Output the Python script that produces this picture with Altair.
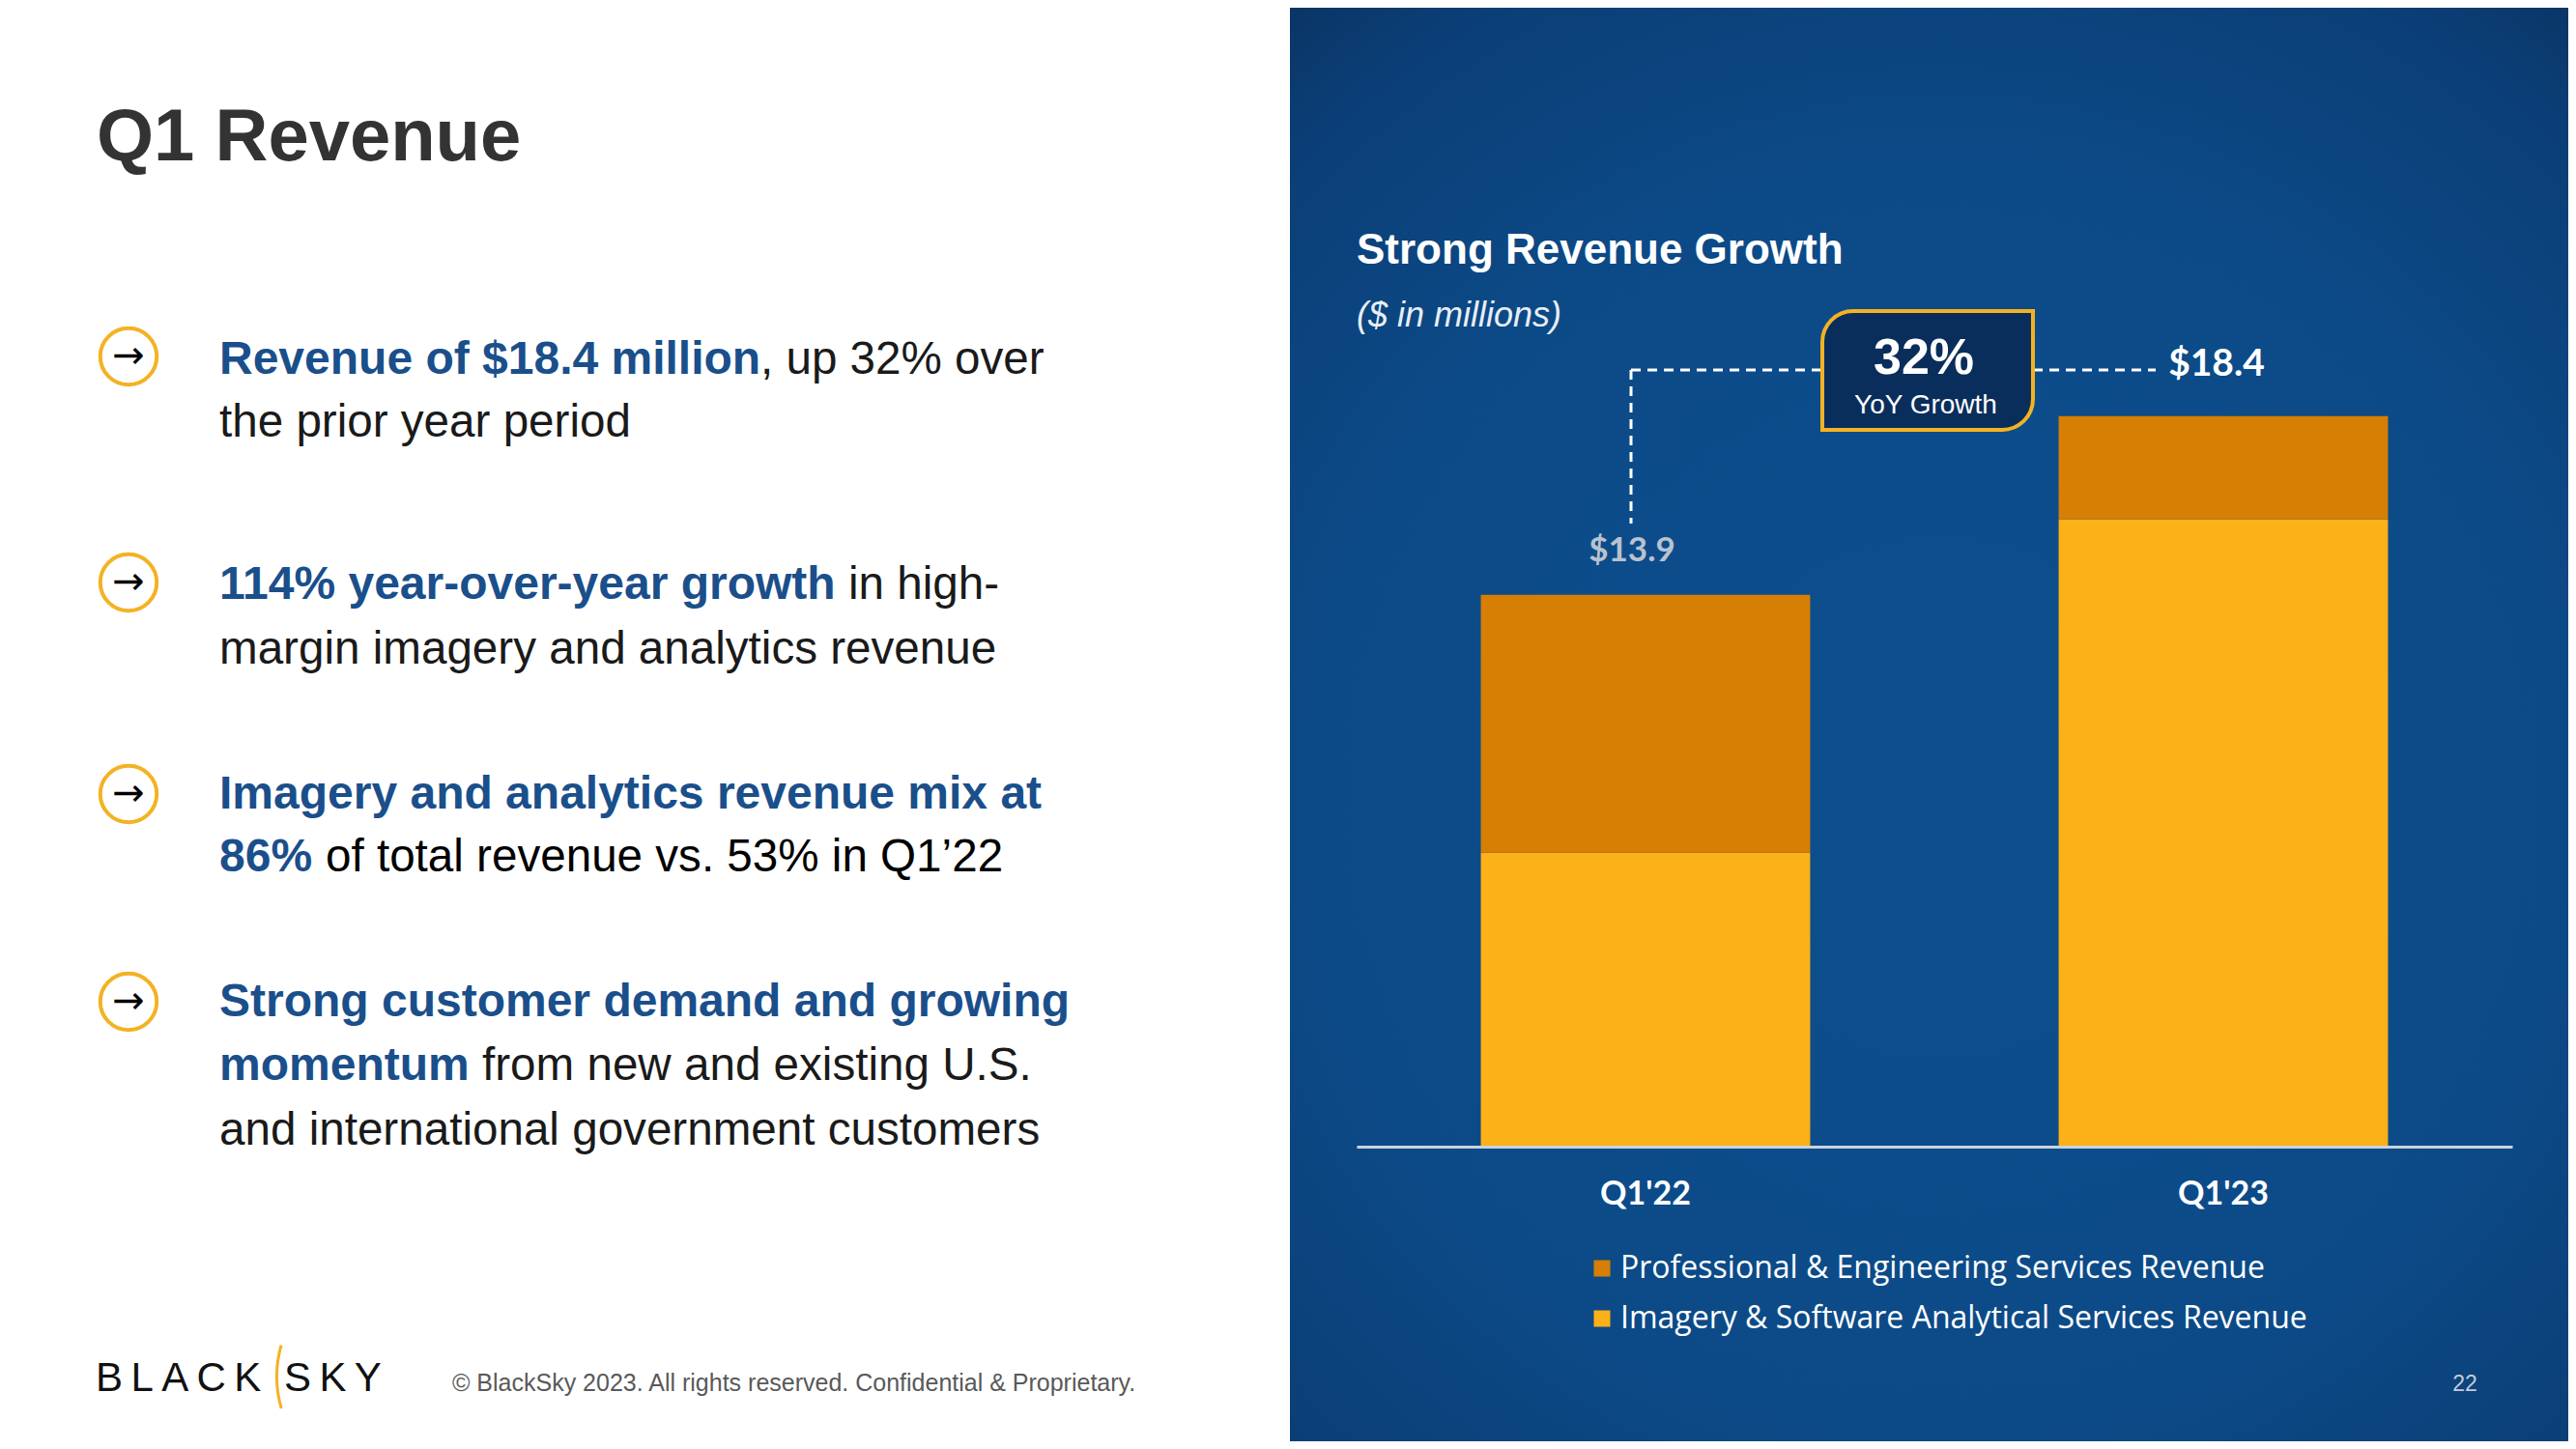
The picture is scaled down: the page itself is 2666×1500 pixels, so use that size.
import altair as alt
import pandas as pd

# ---------------- data ----------------
quarters = ["Q1'22", "Q1'23"]
segments = ["Professional & Engineering Services Revenue",
            "Imagery & Software Analytical Services Revenue"]
professional = [6.5, 2.6]
imagery = [7.4, 15.8]
totals = [13.9, 18.4]
growth_text = ["32%", "YoY Growth"]
panel_title = ["Strong Revenue Growth", "($ in millions)"]
slide_title = "Q1 Revenue"
bullets_bold = ["Revenue of $18.4 million", "114% year-over-year growth",
                "Imagery and analytics revenue mix at", "86%",
                "Strong customer demand and growing", "momentum"]
bullets_regular = [", up 32% over", "the prior year period", "in high-",
                   "margin imagery and analytics revenue",
                   "of total revenue vs. 53% in Q1\u201922",
                   "from new and existing U.S.",
                   "and international government customers"]
footer = ["BLACK", "SKY", "\u00a9 BlackSky 2023. All rights reserved. Confidential & Proprietary.", "22"]

ORANGE = "#d77e04"
YELLOW = "#fbb117"
BLUE_TXT = "#1a4f8b"
DARK_TXT = "#1a1a1a"
GOLD = "#f4b223"

rows = []
for i, q in enumerate(quarters):
    rows.append({"quarter": q, "segment": segments[1], "value": imagery[i], "order": 0})
    rows.append({"quarter": q, "segment": segments[0], "value": professional[i], "order": 1})
df = pd.DataFrame(rows)
tot = pd.DataFrame({"quarter": quarters, "total": totals})

# plot origin in reference pixels is (1404, 365)
OX, OY = 1404, 365


def px(x):
    return x - OX


def py(y):
    return y - OY


one = pd.DataFrame({"k": [0]})


def text(s, x, y, size, color, font="Liberation Sans", weight="normal",
         style="normal", align="left", baseline="alphabetic"):
    return alt.Chart(pd.DataFrame({"t": [s]})).mark_text(
        font=font, fontSize=size, fontWeight=weight, fontStyle=style,
        color=color, align=align, baseline=baseline
    ).encode(text="t:N", x=alt.value(px(x)), y=alt.value(py(y)))


grad = alt.RadialGradient(
    gradient="radial",
    stops=[alt.GradientStop(offset=0, color="#0d4f8e"),
           alt.GradientStop(offset=0.55, color="#0c4a87"),
           alt.GradientStop(offset=0.8, color="#0b3e76"),
           alt.GradientStop(offset=1, color="#0a2b52")],
    x1=0.5, y1=0.55, r1=0, x2=0.5, y2=0.55, r2=0.78)

panel = alt.Chart(one).mark_rect(fill=grad).encode(
    x=alt.value(px(1335)), x2=alt.value(px(2680)),
    y=alt.value(py(-10)), y2=alt.value(py(1510)))

bars = alt.Chart(df).mark_bar().encode(
    x=alt.X("quarter:N", sort=quarters,
            scale=alt.Scale(paddingInner=0.43, paddingOuter=0.215),
            axis=alt.Axis(title=None, labelAngle=0, ticks=False, domainColor="#c9d3df",
                          domainWidth=3, labelFont="Lato", labelFontWeight="bold",
                          labelFontSize=34, labelColor="white", labelPadding=32,
                          zindex=1)),
    y=alt.Y("value:Q", stack="zero", scale=alt.Scale(domain=[0, 20]), axis=None),
    color=alt.Color("segment:N", scale=alt.Scale(domain=segments, range=[ORANGE, YELLOW]),
                    legend=alt.Legend(title=None, orient="none", legendX=238, legendY=932,
                                      symbolType="square", symbolSize=289, symbolStrokeWidth=0,
                                      labelFont="Open Sans", labelFontSize=32, labelColor="white",
                                      labelOffset=3, rowPadding=20, padding=0,
                                      labelLimit=900, zindex=1)),
    order=alt.Order("order:Q"),
)

lab1 = alt.Chart(tot).transform_filter(alt.datum.quarter == quarters[0]).transform_calculate(
    lab="'$' + format(datum.total, '.1f')").mark_text(
    font="Lato", fontWeight="bold", fontSize=35, color="#b9c2cf", dx=-14, dy=-46,
    baseline="middle").encode(x=alt.X("quarter:N", sort=quarters), y="total:Q", text="lab:N")
lab2 = alt.Chart(tot).transform_filter(alt.datum.quarter == quarters[1]).transform_calculate(
    lab="'$' + format(datum.total, '.1f')").mark_text(
    font="Lato", fontWeight="bold", fontSize=39, color="white", dx=-7, dy=-54,
    baseline="middle").encode(x=alt.X("quarter:N", sort=quarters), y="total:Q", text="lab:N")

dash = [10, 7]
vline = alt.Chart(one).mark_rule(color="white", strokeWidth=3, strokeDash=dash).encode(
    x=alt.value(px(1688)), y=alt.value(py(383)), y2=alt.value(py(542)))
hline1 = alt.Chart(one).mark_rule(color="white", strokeWidth=3, strokeDash=dash).encode(
    x=alt.value(px(1688)), x2=alt.value(px(1886)), y=alt.value(py(383)))
hline2 = alt.Chart(one).mark_rule(color="white", strokeWidth=3, strokeDash=dash).encode(
    x=alt.value(px(2104)), x2=alt.value(px(2231)), y=alt.value(py(383)))

box = alt.Chart(one).mark_rect(fill="#0a2e5c", stroke=GOLD, strokeWidth=4,
                               cornerRadiusTopLeft=32, cornerRadiusBottomRight=32).encode(
    x=alt.value(px(1886)), x2=alt.value(px(2104)), y=alt.value(py(322)), y2=alt.value(py(445)))

layers = [panel, bars, lab1, lab2, vline, hline1, hline2, box,
          text(growth_text[0], 1991, 387, 52, "white", weight="bold", align="center"),
          text(growth_text[1], 1993, 428, 28, "white", align="center"),
          text(panel_title[0], 1404, 273, 44, "white", weight="bold"),
          text(panel_title[1], 1404, 338, 36, "#e8eef5", style="italic"),
          text(footer[3], 2551, 1440, 23, "#c5ccd6", align="center"),
          text(slide_title, 100, 166, 76, "#333333", weight="bold"),
          ]

# bullet markers
for cy in [369, 603, 822, 1037]:
    layers.append(alt.Chart(one).mark_point(shape="circle", size=3421, filled=False,
                                            color=GOLD, strokeWidth=4, opacity=1).encode(
        x=alt.value(px(133)), y=alt.value(py(cy))))
    layers.append(text("\u2192", 133, cy, 40, "black", font="DejaVu Sans",
                       align="center", baseline="middle"))

BB = 48
BR = 47.6
layers += [
    text(bullets_bold[0], 227, 387, BB, BLUE_TXT, weight="bold"),
    text(bullets_regular[0], 787, 387, BR, DARK_TXT),
    text(bullets_regular[1], 227, 452, BR, DARK_TXT),
    text(bullets_bold[1], 227, 620, BB, BLUE_TXT, weight="bold"),
    text(bullets_regular[2], 878, 620, BR, DARK_TXT),
    text(bullets_regular[3], 227, 687, BR, DARK_TXT),
    text(bullets_bold[2], 227, 837, BB, BLUE_TXT, weight="bold"),
    text(bullets_bold[3], 227, 902, BB, BLUE_TXT, weight="bold"),
    text(bullets_regular[4], 337, 902, BR, "#000000"),
    text(bullets_bold[4], 227, 1052, BB, BLUE_TXT, weight="bold"),
    text(bullets_bold[5], 227, 1118, BB, BLUE_TXT, weight="bold"),
    text(bullets_regular[5], 499, 1118, BR, DARK_TXT),
    text(bullets_regular[6], 227, 1185, BR, DARK_TXT),
]

# footer / logo
logo_black = "\u2009".join(footer[0])
logo_sky = "\u2009".join(footer[1])
layers += [
    text(logo_black, 99, 1440, 42, "#111111"),
    text(logo_sky, 294, 1440, 42, "#111111"),
    alt.Chart(one).mark_arc(theta=4.43, theta2=4.99, radius=120, radius2=117, color=GOLD).encode(
        x=alt.value(px(405)), y=alt.value(py(1425))),
    text(footer[2], 468, 1440, 25, "#595959"),
]

chart = alt.layer(*layers).properties(
    width=1196, height=822,
    padding={"left": 1396, "top": 357, "right": 58, "bottom": 305},
    autosize=alt.AutoSizeParams(type="none"),
    background="white",
).configure_view(stroke=None)

chart.save("out.html", embed_options={"renderer": "svg", "actions": False})
